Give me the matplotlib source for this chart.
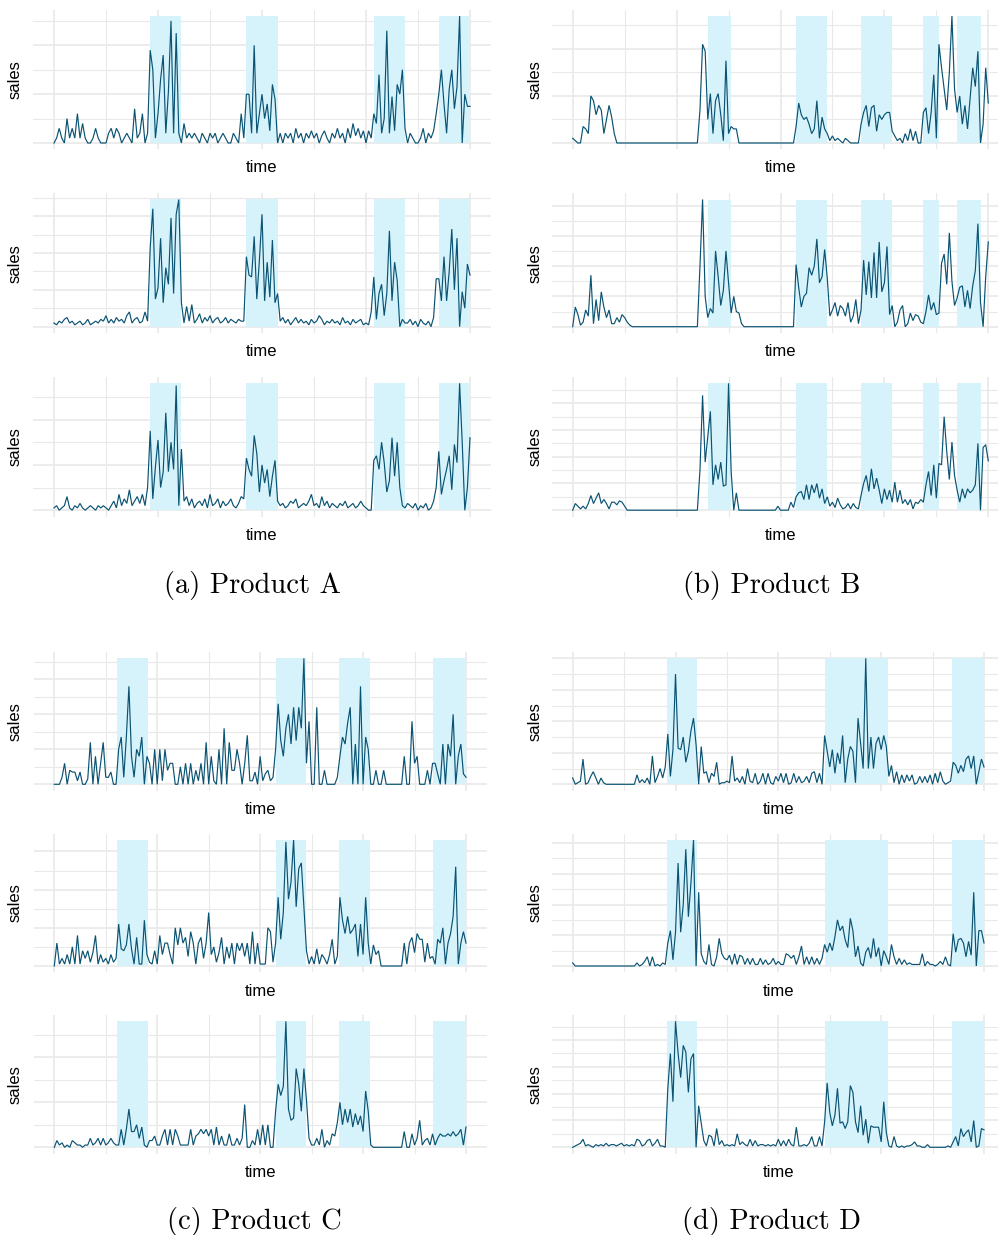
import numpy as np
import matplotlib
matplotlib.use("Agg")
import matplotlib.pyplot as plt

# ---------------- data: weekly sales, 161 points per series ----------------
a1 = [0, 2, 6, 2, 0, 10, 2, 6, 2, 12,
      2, 8, 2, 0, 0, 2, 6, 2, 0, 0,
      0, 4, 6, 2, 6, 4, 0, 2, 4, 2,
      0, 14, 2, 4, 12, 0, 4, 38, 30, 2,
      12, 26, 36, 4, 21, 50, 4, 45, 4, 0,
      8, 2, 4, 2, 4, 2, 0, 4, 2, 0,
      4, 2, 4, 0, 2, 4, 2, 0, 0, 4,
      2, 0, 12, 2, 20, 20, 4, 40, 4, 12,
      20, 10, 16, 5, 24, 18, 0, 4, 0, 4,
      2, 4, 0, 6, 2, 4, 0, 4, 2, 5,
      2, 4, 0, 3, 5, 2, 0, 4, 2, 6,
      2, 4, 0, 6, 2, 8, 3, 6, 2, 5,
      0, 5, 2, 12, 8, 28, 4, 10, 46, 4,
      19, 5, 24, 20, 30, 6, 0, 4, 2, 0,
      0, 2, 6, 0, 4, 2, 5, 12, 20, 30,
      16, 4, 22, 30, 14, 23, 52, 0, 20, 15,
      15]
a2 = [2, 1, 3, 2, 4, 5, 2, 3, 1, 2,
      3, 1, 2, 4, 1, 2, 3, 2, 4, 3,
      6, 2, 4, 2, 5, 3, 4, 2, 6, 8,
      2, 4, 5, 2, 3, 8, 3, 43, 64, 15,
      21, 48, 13, 32, 23, 59, 18, 61, 69, 13,
      2, 11, 3, 12, 2, 4, 7, 2, 5, 3,
      6, 2, 4, 5, 2, 3, 5, 2, 4, 3,
      2, 4, 3, 3, 38, 28, 27, 49, 15, 36,
      61, 14, 35, 16, 47, 13, 18, 3, 5, 2,
      4, 1, 3, 5, 2, 4, 2, 3, 1, 4,
      2, 3, 6, 4, 1, 3, 2, 4, 2, 3,
      1, 5, 2, 3, 1, 4, 2, 3, 4, 1,
      2, 1, 8, 27, 4, 18, 23, 6, 18, 52,
      14, 35, 25, 0, 4, 2, 2, 4, 1, 3,
      0, 4, 2, 1, 3, 0, 5, 26, 26, 14,
      38, 14, 30, 53, 20, 48, 0, 19, 10, 34,
      28]
a3 = [1, 2, 0, 1, 2, 6, 1, 0, 2, 1,
      3, 1, 0, 1, 2, 1, 0, 2, 1, 2,
      1, 0, 2, 4, 1, 7, 2, 5, 3, 9,
      2, 4, 6, 3, 7, 2, 10, 35, 5, 19,
      31, 10, 17, 43, 17, 30, 18, 55, 2, 27,
      4, 6, 2, 5, 1, 3, 4, 2, 5, 1,
      7, 2, 3, 5, 1, 4, 2, 3, 5, 2,
      1, 3, 6, 5, 23, 18, 15, 33, 25, 8,
      20, 12, 18, 6, 15, 22, 4, 2, 3, 1,
      2, 4, 3, 5, 1, 2, 3, 2, 4, 7,
      2, 3, 1, 6, 2, 4, 1, 3, 2, 1,
      3, 2, 4, 1, 2, 3, 1, 2, 4, 2,
      1, 0, 0, 22, 24, 18, 30, 21, 8, 13,
      32, 15, 30, 10, 2, 1, 3, 2, 1, 3,
      0, 2, 1, 3, 0, 1, 4, 10, 26, 7,
      13, 18, 24, 9, 29, 21, 56, 30, 0, 10,
      32]

b1 = [2, 1, 0, 0, 7, 6, 4, 20, 18, 12,
      16, 14, 4, 10, 16, 11, 4, 0, 0, 0,
      0, 0, 0, 0, 0, 0, 0, 0, 0, 0,
      0, 0, 0, 0, 0, 0, 0, 0, 0, 0,
      0, 0, 0, 0, 0, 0, 0, 0, 0, 14,
      42, 39, 10, 21, 4, 18, 21, 12, 1, 35,
      4, 7, 6, 6, 0, 0, 0, 0, 0, 0,
      0, 0, 0, 0, 0, 0, 0, 0, 0, 0,
      0, 0, 0, 0, 0, 0, 7, 17, 12, 10,
      11, 8, 4, 6, 18, 2, 11, 6, 4, 1,
      3, 1, 2, 1, 0, 2, 1, 0, 0, 0,
      0, 8, 13, 16, 7, 15, 16, 5, 12, 10,
      12, 13, 13, 5, 3, 1, 2, 0, 4, 1,
      6, 1, 5, 0, 0, 13, 15, 4, 13, 29,
      2, 42, 32, 23, 14, 30, 54, 23, 13, 20,
      8, 16, 6, 19, 32, 24, 39, 0, 8, 32,
      17]
b2 = [0, 13, 8, 1, 3, 11, 7, 34, 2, 18,
      4, 23, 13, 6, 11, 2, 2, 6, 3, 8,
      6, 3, 1, 0, 0, 0, 0, 0, 0, 0,
      0, 0, 0, 0, 0, 0, 0, 0, 0, 0,
      0, 0, 0, 0, 0, 0, 0, 0, 0, 40,
      84, 20, 6, 12, 9, 50, 33, 14, 24, 50,
      29, 9, 20, 10, 9, 2, 0, 0, 0, 0,
      0, 0, 0, 0, 0, 0, 0, 0, 0, 0,
      0, 0, 0, 0, 0, 0, 41, 26, 13, 20,
      22, 39, 34, 40, 58, 29, 33, 51, 32, 7,
      11, 16, 7, 14, 12, 7, 16, 3, 7, 18,
      2, 11, 44, 21, 43, 19, 49, 19, 56, 23,
      29, 53, 8, 14, 0, 3, 11, 14, 0, 2,
      9, 4, 8, 7, 3, 2, 10, 21, 11, 16,
      8, 9, 42, 48, 28, 62, 30, 14, 19, 26,
      27, 13, 24, 12, 27, 37, 68, 16, 0, 33,
      56]
b3 = [0, 5, 3, 1, 3, 1, 5, 11, 5, 9,
      13, 5, 8, 5, 1, 6, 6, 4, 7, 6,
      3, 0, 0, 0, 0, 0, 0, 0, 0, 0,
      0, 0, 0, 0, 0, 0, 0, 0, 0, 0,
      0, 0, 0, 0, 0, 0, 0, 0, 0, 30,
      86, 36, 55, 74, 19, 34, 23, 36, 18, 19,
      95, 29, 0, 13, 0, 0, 0, 0, 0, 0,
      0, 0, 0, 0, 0, 0, 0, 0, 0, 3,
      0, 0, 0, 0, 6, 2, 10, 13, 14, 8,
      19, 8, 19, 13, 20, 9, 16, 5, 10, 3,
      6, 2, 9, 4, 1, 2, 5, 1, 5, 2,
      1, 11, 20, 26, 14, 31, 16, 24, 15, 5,
      16, 8, 15, 6, 21, 6, 15, 5, 8, 4,
      8, 1, 6, 5, 8, 6, 19, 29, 11, 34,
      9, 35, 34, 70, 44, 23, 51, 26, 15, 6,
      16, 9, 16, 13, 15, 19, 50, 0, 47, 49,
      37]

c1 = [0, 0, 0, 4, 12, 0, 8, 7, 7, 2,
      7, 0, 0, 3, 24, 0, 16, 0, 12, 24,
      4, 4, 7, 0, 0, 20, 27, 4, 27, 56,
      16, 4, 20, 16, 27, 0, 16, 12, 0, 20,
      0, 20, 2, 20, 8, 12, 12, 0, 0, 10,
      0, 12, 0, 12, 0, 8, 2, 12, 0, 24,
      0, 16, 2, 0, 20, 0, 32, 0, 24, 8,
      8, 20, 12, 0, 12, 28, 2, 2, 7, 0,
      16, 2, 6, 8, 2, 4, 20, 46, 25, 16,
      32, 40, 23, 44, 25, 44, 32, 72, 12, 36,
      0, 0, 44, 0, 0, 8, 0, 0, 0, 0,
      4, 16, 27, 23, 35, 44, 0, 23, 0, 56,
      0, 27, 20, 0, 0, 8, 0, 0, 8, 0,
      0, 0, 0, 0, 0, 0, 16, 0, 0, 36,
      12, 16, 0, 0, 0, 8, 0, 12, 12, 6,
      0, 23, 0, 23, 16, 40, 0, 16, 23, 6,
      4]
c2 = [0, 12, 1, 4, 1, 6, 1, 10, 1, 16,
      1, 8, 4, 8, 2, 7, 16, 1, 6, 2,
      4, 1, 6, 2, 4, 22, 9, 8, 11, 22,
      9, 1, 15, 1, 1, 24, 6, 2, 1, 8,
      1, 16, 6, 12, 12, 6, 1, 20, 11, 20,
      12, 15, 5, 18, 12, 1, 12, 15, 4, 12,
      28, 6, 10, 2, 7, 15, 1, 10, 4, 12,
      1, 12, 8, 12, 5, 12, 1, 18, 1, 12,
      1, 1, 1, 20, 18, 2, 12, 36, 14, 28,
      65, 35, 44, 66, 31, 51, 54, 31, 8, 1,
      5, 1, 9, 1, 6, 4, 1, 6, 14, 1,
      5, 36, 24, 17, 26, 17, 19, 22, 5, 22,
      6, 36, 12, 1, 11, 6, 8, 0, 0, 0,
      0, 0, 0, 0, 0, 0, 12, 1, 12, 15,
      7, 17, 14, 14, 2, 12, 4, 5, 1, 14,
      12, 20, 1, 12, 17, 26, 52, 1, 12, 18,
      12]
c3 = [0, 3, 1, 2, 0, 1, 0, 3, 2, 1,
      1, 0, 1, 1, 4, 1, 2, 4, 1, 4,
      1, 2, 4, 2, 1, 1, 8, 1, 8, 17,
      7, 7, 10, 4, 9, 1, 0, 3, 3, 5,
      1, 1, 5, 8, 1, 8, 1, 8, 5, 1,
      1, 1, 1, 8, 1, 5, 6, 8, 6, 8,
      5, 8, 1, 9, 1, 5, 1, 1, 6, 1,
      1, 4, 1, 4, 19, 0, 0, 3, 1, 8,
      1, 10, 1, 10, 0, 0, 16, 28, 23, 27,
      56, 17, 12, 13, 35, 28, 16, 35, 21, 4,
      1, 1, 4, 1, 8, 0, 3, 1, 6, 5,
      11, 20, 10, 17, 11, 17, 9, 15, 10, 14,
      7, 25, 16, 1, 0, 0, 0, 0, 0, 0,
      0, 0, 0, 0, 0, 0, 7, 0, 0, 6,
      1, 4, 12, 1, 3, 4, 1, 6, 1, 4,
      6, 5, 5, 6, 5, 7, 5, 6, 8, 1,
      9]

d1 = [4, 0, 1, 2, 16, 0, 1, 5, 8, 4,
      0, 4, 1, 0, 0, 0, 0, 0, 0, 0,
      0, 0, 0, 0, 0, 6, 1, 3, 1, 4,
      0, 18, 1, 5, 10, 4, 11, 32, 5, 22,
      70, 23, 22, 30, 14, 21, 34, 42, 25, 0,
      24, 7, 8, 1, 7, 5, 14, 0, 1, 1,
      2, 1, 18, 2, 4, 1, 5, 0, 10, 2,
      1, 7, 0, 2, 7, 0, 7, 1, 0, 5,
      2, 7, 1, 7, 0, 1, 7, 1, 5, 1,
      2, 5, 1, 7, 8, 1, 7, 0, 31, 21,
      11, 22, 7, 20, 13, 31, 1, 16, 24, 21,
      1, 42, 26, 10, 80, 10, 30, 10, 26, 30,
      22, 31, 24, 5, 12, 1, 8, 0, 6, 1,
      6, 2, 6, 0, 1, 5, 1, 5, 1, 6,
      0, 7, 1, 8, 2, 0, 1, 2, 14, 12,
      7, 12, 8, 16, 18, 10, 18, 0, 8, 16,
      11]
d2 = [2, 0, 0, 0, 0, 0, 0, 0, 0, 0,
      0, 0, 0, 0, 0, 0, 0, 0, 0, 0,
      0, 0, 0, 0, 0, 2, 0, 1, 3, 6,
      0, 6, 0, 1, 0, 2, 1, 15, 23, 4,
      22, 67, 22, 40, 76, 32, 54, 82, 0, 48,
      8, 3, 1, 14, 1, 0, 6, 18, 8, 5,
      4, 7, 1, 8, 1, 7, 6, 1, 5, 1,
      5, 1, 1, 5, 1, 4, 1, 2, 5, 1,
      3, 1, 1, 8, 7, 5, 7, 1, 6, 13,
      1, 6, 1, 6, 1, 5, 1, 5, 14, 9,
      15, 10, 19, 30, 23, 26, 17, 12, 31, 23,
      6, 13, 2, 0, 9, 12, 5, 18, 6, 12,
      0, 10, 6, 1, 14, 6, 1, 5, 1, 4,
      1, 2, 1, 1, 1, 1, 8, 0, 3, 1,
      1, 0, 1, 3, 1, 6, 1, 0, 21, 9,
      17, 18, 15, 6, 16, 7, 48, 0, 23, 23,
      15]
d3 = [0, 1, 2, 3, 6, 1, 2, 1, 0, 2,
      1, 2, 1, 3, 1, 2, 2, 1, 2, 3,
      1, 2, 1, 2, 1, 6, 5, 1, 2, 5,
      6, 1, 3, 6, 1, 1, 0, 44, 70, 34,
      94, 70, 52, 76, 71, 41, 66, 70, 0, 31,
      18, 5, 1, 9, 8, 1, 14, 2, 5, 1,
      2, 1, 2, 1, 10, 2, 4, 2, 1, 6,
      1, 5, 1, 2, 2, 1, 2, 1, 2, 1,
      6, 1, 5, 1, 6, 2, 1, 15, 1, 1,
      2, 1, 3, 8, 1, 1, 8, 1, 19, 48,
      26, 16, 24, 44, 18, 19, 14, 19, 46, 41,
      19, 11, 31, 9, 21, 3, 16, 15, 15, 15,
      4, 34, 11, 1, 0, 8, 1, 0, 1, 0,
      1, 1, 2, 4, 1, 1, 0, 0, 2, 0,
      0, 0, 0, 0, 0, 0, 1, 0, 4, 8,
      1, 14, 8, 11, 13, 4, 20, 0, 1, 14,
      13]

# promotion periods (week ranges) for each product
promo_a = [(37, 49), (74, 86), (123, 135), (148, 160)]
promo_b = [(52, 61), (86, 98), (111, 123), (135, 141), (148, 157)]
promo_c = [(24.5, 36.5), (86, 98), (110.5, 122.5), (147, 160)]
promo_d = [(36.5, 48.5), (98, 122.5), (147.5, 160)]

captions = ["(a) Product A", "(b) Product B", "(c) Product C", "(d) Product D"]

# ---------------- layout ----------------
W, H = 998, 1235
fig = plt.figure(figsize=(W / 100, H / 100), dpi=100)

LINE = "#0a5373"
SHADE = "#d6f3fc"
GRID = "#e9e9e9"
N_WEEKS = 160
GRID_STEP = 10

SANS = ["Liberation Sans", "DejaVu Sans"]
SERIF = ["cmr10", "DejaVu Serif"]


def panel(series, promos, x0, x1, top, base):
    """Draw one small sales panel whose data area spans pixels x0..x1, top..base."""
    dx = (x1 - x0) * 0.05
    dy = (base - top) * 0.05
    left, right = x0 - dx, x1 + dx
    ytop, ybot = top - dy, base + dy
    ax = fig.add_axes([left / W, 1 - ybot / H, (right - left) / W, (ybot - ytop) / H])

    v = np.asarray(series, dtype=float)
    t = np.arange(len(v))
    vmax = v.max()

    ax.set_xlim(-0.05 * N_WEEKS, 1.05 * N_WEEKS)
    ax.set_ylim(-0.05 * vmax, 1.05 * vmax)

    # grid (major every other line, minor in between)
    for i, gx in enumerate(range(0, N_WEEKS + 1, 20)):
        ax.axvline(gx, color=GRID, lw=1.2 if i % 2 == 0 else 0.8, zorder=0)
    for j, gy in enumerate(np.arange(0, vmax * 1.05 + 1e-9, GRID_STEP)):
        ax.axhline(gy, color=GRID, lw=1.2 if j % 2 == 0 else 0.8, zorder=0)

    for s0, s1 in promos:
        ax.fill_between([s0, s1], 0, vmax, color=SHADE, lw=0, zorder=1)

    ax.plot(t, v, color=LINE, lw=0.85, zorder=3, solid_joinstyle="miter")

    for s in ax.spines.values():
        s.set_visible(False)
    ax.set_xticks([])
    ax.set_yticks([])
    ax.patch.set_alpha(0)

    # axis titles
    sales_x = 15 if x0 < 300 else 535
    fig.text(sales_x / W, 1 - (top + base) / 2 / H, "sales", rotation=90,
             ha="center", va="center", fontsize=12, family=SANS)
    fig.text((x0 + x1) / 2 / W, 1 - (base + 25) / H, "time",
             ha="center", va="center", fontsize=12, family=SANS)
    return ax


rows_top = [(16, 143), (199.5, 326.7), (383.3, 510.2)]
rows_bot = [(658.3, 784.3), (840, 966), (1021.3, 1147.3)]

for s, (tp, bs) in zip([a1, a2, a3], rows_top):
    panel(s, promo_a, 54, 470, tp, bs)
for s, (tp, bs) in zip([b1, b2, b3], rows_top):
    panel(s, promo_b, 572.7, 988.3, tp, bs)
for s, (tp, bs) in zip([c1, c2, c3], rows_bot):
    panel(s, promo_c, 54.3, 466, tp, bs)
for s, (tp, bs) in zip([d1, d2, d3], rows_bot):
    panel(s, promo_d, 572.7, 984, tp, bs)

# sub-figure captions
for txt, cx, cy in zip(captions, [253, 772, 254, 772], [586, 586, 1222, 1222]):
    fig.text(cx / W, 1 - cy / H, txt, ha="center", va="center",
             fontsize=20.5, family=SERIF)

fig.savefig("out.png", dpi=100, facecolor="white")
